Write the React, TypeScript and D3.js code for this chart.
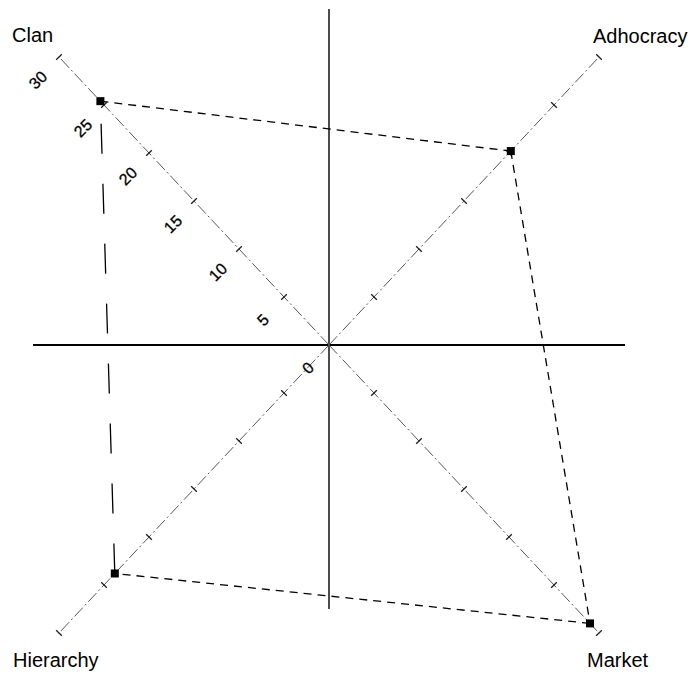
import React from "react";
import * as d3 from "d3";

const categories = ["Clan", "Adhocracy", "Market", "Hierarchy"];
const values = [25.4, 20.2, 29.0, 23.8];
const tickValues = [0, 5, 10, 15, 20, 25, 30];
const tickLabels = ["0", "5", "10", "15", "20", "25", "30"];

const W = 693;
const H = 678;
const cx = 329;
const cy = 345;
const dirs: Record<string, [number, number]> = {
  Clan: [-1, -1],
  Adhocracy: [1, -1],
  Market: [1, 1],
  Hierarchy: [-1, 1],
};

const sx = d3.scaleLinear().domain([0, 30]).range([0, 270]);
const sy = d3.scaleLinear().domain([0, 30]).range([0, 288]);

function pos(cat: string, v: number): [number, number] {
  const [dx, dy] = dirs[cat];
  return [cx + dx * sx(v), cy + dy * sy(v)];
}

const labelPos: Record<string, { x: number; y: number; anchor: string }> = {
  Clan: { x: 12, y: 42, anchor: "start" },
  Adhocracy: { x: 593, y: 43, anchor: "start" },
  Market: { x: 587, y: 667, anchor: "start" },
  Hierarchy: { x: 13, y: 667, anchor: "start" },
};

export default function App() {
  const pts = categories.map((c, i) => pos(c, values[i]));
  const edges = pts.map((p, i) => [p, pts[(i + 1) % pts.length]]);
  const font = "'Liberation Sans', Arial, sans-serif";
  return (
    <svg width={W} height={H} style={{ position: "absolute", left: 0, top: 0, background: "#fff" }}>
      {/* main cross axes */}
      <line x1={33} y1={cy} x2={625} y2={cy} stroke="#000" strokeWidth={2} />
      <line x1={cx} y1={9} x2={cx} y2={609} stroke="#111" strokeWidth={1.5} />
      {/* diagonal axes */}
      {categories.map((c) => {
        const [x2, y2] = pos(c, 30);
        const [dx, dy] = dirs[c];
        const len = 4;
        return (
          <g key={c}>
            <line x1={cx} y1={cy} x2={x2} y2={y2} stroke="#555" strokeWidth={1} strokeDasharray="12,3,2,3" />
            {tickValues.slice(1).map((t) => {
              const [tx, ty] = pos(c, t);
              const px = -dy / Math.SQRT2;
              const py = dx / Math.SQRT2;
              return (
                <line key={t} x1={tx - px * len} y1={ty - py * len} x2={tx + px * len} y2={ty + py * len} stroke="#222" strokeWidth={1.3} />
              );
            })}
          </g>
        );
      })}
      {/* tick labels along Clan axis */}
      {tickValues.map((t, i) => {
        const [tx, ty] = pos("Clan", t);
        const lx = tx - 21;
        const ly = ty + 23;
        return (
          <text key={t} x={lx} y={ly} fontFamily={font} fontSize={16} textAnchor="middle" dominantBaseline="central" transform={`rotate(-45 ${lx} ${ly})`} fill="#000" stroke="#000" strokeWidth={0.3}>
            {tickLabels[i]}
          </text>
        );
      })}
      {/* polygon edges */}
      {edges.map(([a, b], i) => (
        <line key={i} x1={a[0]} y1={a[1]} x2={b[0]} y2={b[1]} stroke="#000" strokeWidth={1.3} strokeDasharray={i === 3 ? "30,30" : "8,6"} />
      ))}
      {/* markers */}
      {pts.map((p, i) => (
        <rect key={i} x={p[0] - 4} y={p[1] - 4} width={8} height={8} fill="#000" />
      ))}
      {/* category labels */}
      {categories.map((c) => (
        <text key={c} x={labelPos[c].x} y={labelPos[c].y} fontFamily={font} fontSize={20} textAnchor={labelPos[c].anchor} fill="#000">
          {c}
        </text>
      ))}
    </svg>
  );
}
